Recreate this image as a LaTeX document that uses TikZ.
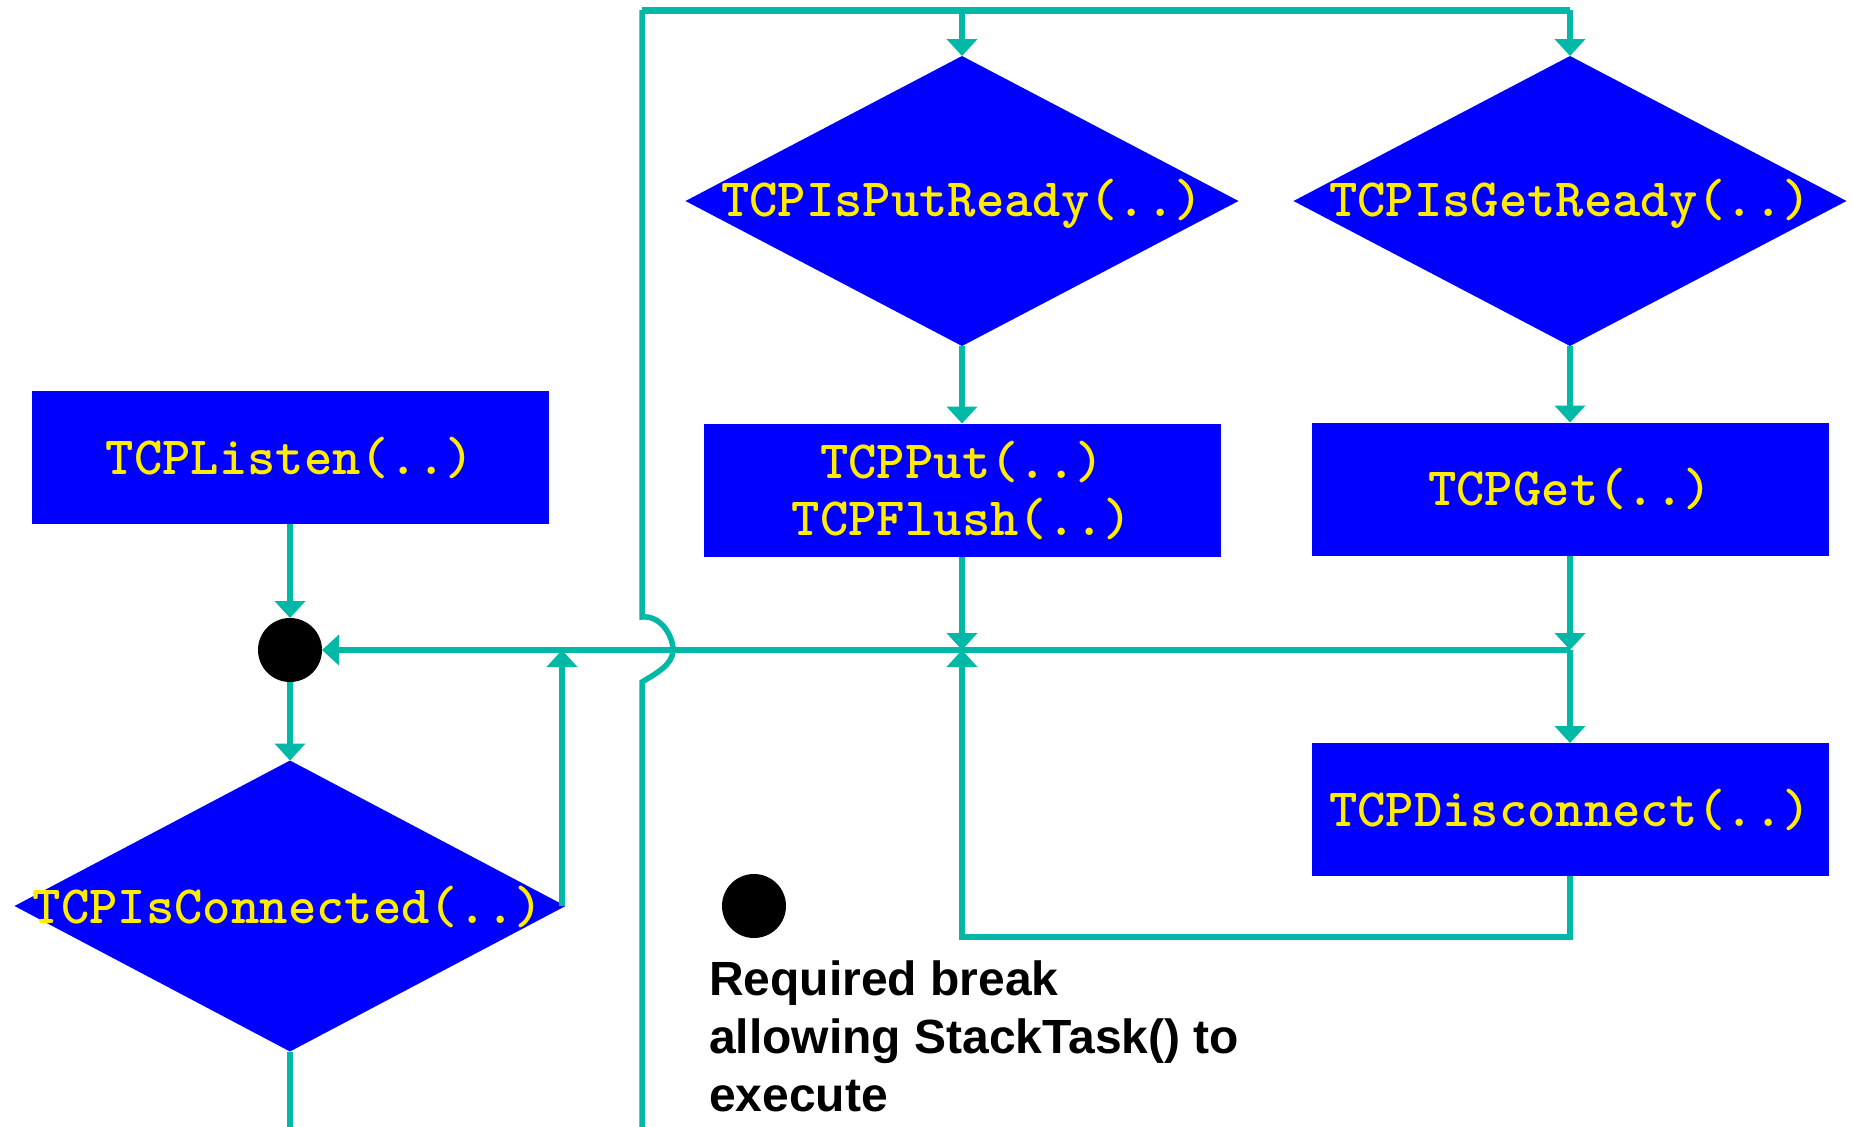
\documentclass[tikz,border=0pt]{standalone}
\usepackage{fontspec}
\setsansfont{Liberation Sans}
\usetikzlibrary{shapes.geometric,arrows.meta}
\definecolor{wirec}{RGB}{0,184,166}
\definecolor{ylw}{RGB}{255,236,0}
\begin{document}
\begin{tikzpicture}[x=1pt,y=-1pt,
  codefont/.style={font=\fontsize{54}{57}\selectfont\ttfamily\bfseries},
  box/.style={rectangle, fill=blue, minimum width=517pt, minimum height=133pt, inner sep=0pt, outer sep=0pt, text=ylw, codefont, align=center},
  dec/.style={diamond, fill=blue, minimum width=553pt, minimum height=290pt, inner sep=0pt, outer sep=0pt},
  lbl/.style={text=ylw, codefont, inner sep=0pt},
  wire/.style={draw=wirec, line width=5.5pt},
  arr/.style={wire, -{Triangle[width=30pt,length=17pt]}},
  dot/.style={circle, fill=black, minimum size=64pt, inner sep=0pt, outer sep=0pt}]
\useasboundingbox[fill=white] (0,0) rectangle (1853,1127);

% nodes
\node[box] (listen) at (290,457.5) {TCPListen(..)};
\node[box] (put) at (962,490) {TCPPut(..)\\TCPFlush(..)};
\node[box] (get) at (1570,489) {TCPGet(..)};
\node[box] (disc) at (1570,809.5) {TCPDisconnect(..)};
\node[dec] (dput) at (962,201) {};
\node[lbl] (tput) at (962,204) {TCPIsPutReady(..)};
\node[dec] (dget) at (1570,201) {};
\node[lbl] (tget) at (1570,204) {TCPIsGetReady(..)};
\node[dec, minimum width=551pt, minimum height=291pt] (dcon) at (290,906) {};
\node[lbl] (tcon) at (288,907) {TCPIsConnected(..)};
\node[dot] (j) at (290,650) {};
\node[dot] (legend) at (754,906) {};
\node[anchor=north west, inner sep=0pt, align=left,
      font=\fontsize{48}{58}\selectfont\sffamily\bfseries] (note) at (709,961)
      {Required break\\allowing StackTask() to\\execute};

% coordinates
\coordinate (tl) at (642,10);
\coordinate (tr) at (1570,10);
\coordinate (hopA) at (642,617);
\coordinate (hopB) at (642,682);
\coordinate (bl) at (642,1127);
\coordinate (m1) at (562,650);
\coordinate (lp) at (962,937);
\coordinate (bc) at (290,1127);

% top feed line
\draw[draw=wirec, line width=7pt] (tl) -- (tr);
\draw[arr] (dput.north |- tl) -- (dput.north);
\draw[arr] (tr) -- (dget.north);
\draw[wire] (tl) -- (hopA) .. controls (660,615) and (673,635) .. (673,650)
  .. controls (673,665) and (655,674) .. (hopB) -- (bl);

% column connections
\draw[arr] (dput.south) -- (put.north);
\draw[arr] (dget.south) -- (get.north);
\draw[arr] (put.south) -- (put.south |- j);
\draw[arr] (get.south) -- (get.south |- j);
\draw[arr] (get.south |- j) -- (disc.north);
\draw[arr] (get.south |- j) -- (j.east);
\draw[arr] (disc.south) |- (lp) -- (put.south |- j);

% left column
\draw[arr] (listen.south) -- (j.north);
\draw[arr] (j.south) -- (dcon.north);
\draw[arr] (dcon.east -| m1) -- (m1);
\draw[wire] (dcon.south) -- (bc);
\end{tikzpicture}
\end{document}
